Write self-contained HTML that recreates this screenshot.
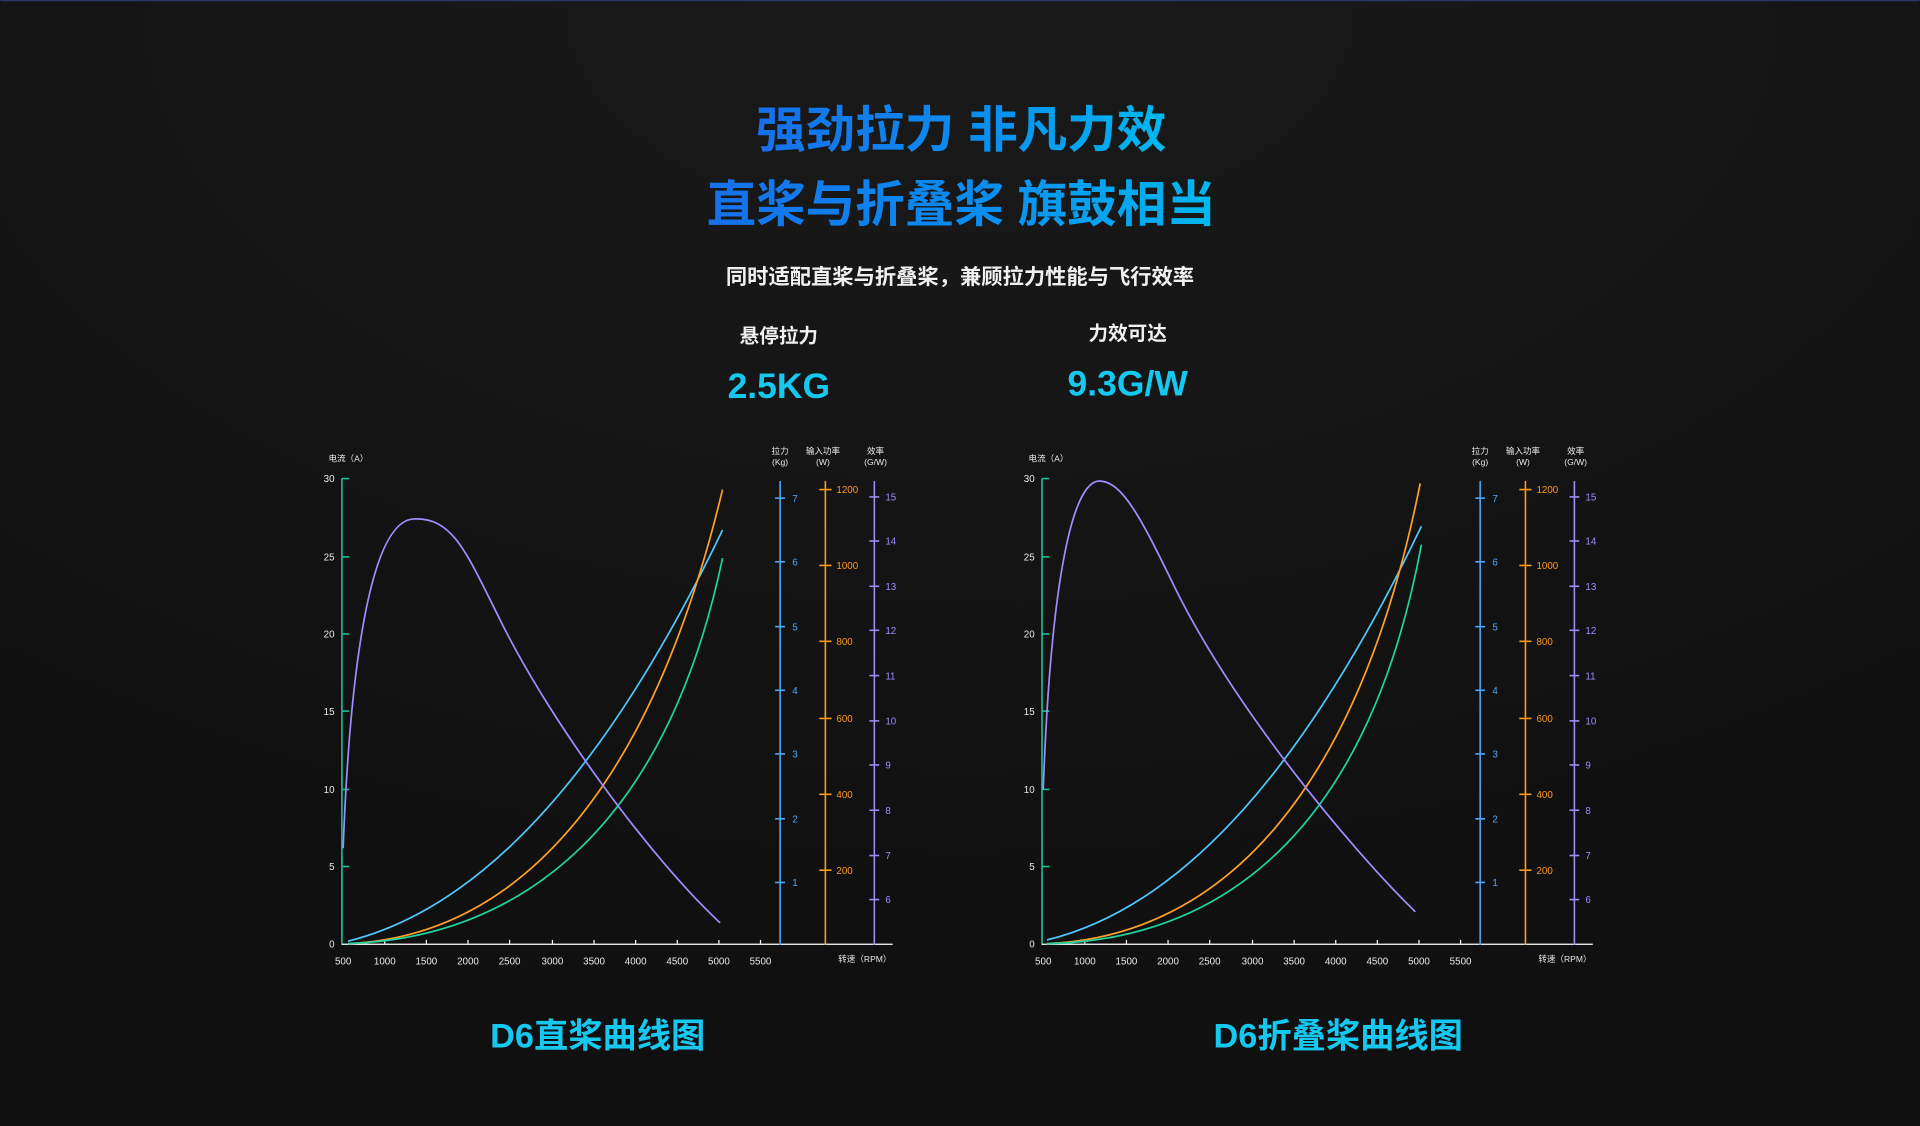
<!DOCTYPE html>
<html><head><meta charset="utf-8"><style>
html,body{margin:0;padding:0;background:#111111;}
svg{display:block}
text{font-family:"Liberation Sans","Noto Sans CJK SC",sans-serif}
</style></head><body>
<svg width="1920" height="1126" viewBox="0 0 1568 920" xmlns="http://www.w3.org/2000/svg">
<defs>
<linearGradient id="tg" x1="0" x2="1" y1="0" y2="0">
<stop offset="0" stop-color="#1670ea"/><stop offset="0.55" stop-color="#0a8ef0"/><stop offset="1" stop-color="#00b8ee"/>
</linearGradient>
<radialGradient id="bg" cx="0.5" cy="0" r="0.8">
<stop offset="0" stop-color="#1a1a1a"/><stop offset="1" stop-color="#101010"/>
</radialGradient>
</defs>
<rect width="1568" height="920" fill="url(#bg)"/>
<rect width="1568" height="1" fill="#2a3a6a"/>
<g font-weight="bold" fill="url(#tg)" text-anchor="middle">
<text x="785" y="120" font-size="40.5">强劲拉力 非凡力效</text>
<text x="785" y="181" font-size="40.5">直桨与折叠桨 旗鼓相当</text>
</g>
<text x="784" y="232" font-size="17.4" fill="#f0f0f0" font-weight="bold" text-anchor="middle">同时适配直桨与折叠桨，兼顾拉力性能与飞行效率</text>
<text x="636" y="280" font-size="16" fill="#f0f0f0" font-weight="bold" text-anchor="middle">悬停拉力</text>
<text x="921" y="278" font-size="16" fill="#f0f0f0" font-weight="bold" text-anchor="middle">力效可达</text>
<text x="636" y="325" font-size="29" fill="#16c8f0" text-anchor="middle" font-weight="bold">2.5KG</text>
<text x="921" y="323" font-size="29" fill="#16c8f0" text-anchor="middle" font-weight="bold">9.3G/W</text>
<text x="488" y="856" font-size="28" fill="#16c8f0" font-weight="bold" text-anchor="middle">D6直桨曲线图</text>
<text x="1093" y="856" font-size="28" fill="#16c8f0" font-weight="bold" text-anchor="middle">D6折叠桨曲线图</text>

<!-- LEFT CHART axes -->
<g font-size="8" fill="#e8e8e8">
<text x="268" y="377" font-size="7">电流（A）</text>
<line x1="279" y1="391" x2="279" y2="772" stroke="#19c39a" stroke-width="1.3"/>
<g stroke="#19c39a" stroke-width="1.3">
<line x1="279" y1="391" x2="285" y2="391"/><line x1="279" y1="455" x2="285" y2="455"/><line x1="279" y1="518" x2="285" y2="518"/><line x1="279" y1="581" x2="285" y2="581"/><line x1="279" y1="645" x2="285" y2="645"/><line x1="279" y1="708" x2="285" y2="708"/>
</g>
<g text-anchor="end">
<text x="273" y="394">30</text><text x="273" y="458">25</text><text x="273" y="521">20</text><text x="273" y="584">15</text><text x="273" y="648">10</text><text x="273" y="711">5</text><text x="273" y="774">0</text>
</g>
<line x1="279" y1="771.5" x2="729" y2="771.5" stroke="#fff" stroke-width="1"/>
<g stroke="#fff" stroke-width="1">
<line x1="314" y1="768" x2="314" y2="771"/><line x1="348" y1="768" x2="348" y2="771"/><line x1="382" y1="768" x2="382" y2="771"/><line x1="416" y1="768" x2="416" y2="771"/><line x1="451" y1="768" x2="451" y2="771"/><line x1="485" y1="768" x2="485" y2="771"/><line x1="519" y1="768" x2="519" y2="771"/><line x1="553" y1="768" x2="553" y2="771"/><line x1="587" y1="768" x2="587" y2="771"/><line x1="621" y1="768" x2="621" y2="771"/>
</g>
<g text-anchor="middle">
<text x="280" y="788">500</text><text x="314" y="788">1000</text><text x="348" y="788">1500</text><text x="382" y="788">2000</text><text x="416" y="788">2500</text><text x="451" y="788">3000</text><text x="485" y="788">3500</text><text x="519" y="788">4000</text><text x="553" y="788">4500</text><text x="587" y="788">5000</text><text x="621" y="788">5500</text>
</g>
<text x="728" y="786" font-size="7" text-anchor="end">转速（RPM）</text>
<g font-size="7" text-anchor="middle">
<text x="637" y="371">拉力</text><text x="637" y="380">(Kg)</text>
<text x="672" y="371">输入功率</text><text x="672" y="380">(W)</text>
<text x="715" y="371">效率</text><text x="715" y="380">(G/W)</text>
</g>
<line x1="637" y1="393" x2="637" y2="772" stroke="#4aa8ff" stroke-width="1.3"/>
<g stroke="#4aa8ff" stroke-width="1.3">
<line x1="633" y1="721" x2="641" y2="721"/><line x1="633" y1="669" x2="641" y2="669"/><line x1="633" y1="616" x2="641" y2="616"/><line x1="633" y1="564" x2="641" y2="564"/><line x1="633" y1="512" x2="641" y2="512"/><line x1="633" y1="459" x2="641" y2="459"/><line x1="633" y1="407" x2="641" y2="407"/>
</g>
<g fill="#4aa8ff">
<text x="647" y="724">1</text><text x="647" y="672">2</text><text x="647" y="619">3</text><text x="647" y="567">4</text><text x="647" y="515">5</text><text x="647" y="462">6</text><text x="647" y="410">7</text>
</g>
<line x1="674" y1="393" x2="674" y2="772" stroke="#ff9a1f" stroke-width="1.3"/>
<g stroke="#ff9a1f" stroke-width="1.3">
<line x1="669" y1="711" x2="679" y2="711"/><line x1="669" y1="649" x2="679" y2="649"/><line x1="669" y1="587" x2="679" y2="587"/><line x1="669" y1="524" x2="679" y2="524"/><line x1="669" y1="462" x2="679" y2="462"/><line x1="669" y1="400" x2="679" y2="400"/>
</g>
<g fill="#ff9a1f">
<text x="683" y="714">200</text><text x="683" y="652">400</text><text x="683" y="590">600</text><text x="683" y="527">800</text><text x="683" y="465">1000</text><text x="683" y="403">1200</text>
</g>
<line x1="714" y1="393" x2="714" y2="772" stroke="#9b8cff" stroke-width="1.3"/>
<g stroke="#9b8cff" stroke-width="1.3">
<line x1="710" y1="735" x2="718" y2="735"/><line x1="710" y1="699" x2="718" y2="699"/><line x1="710" y1="662" x2="718" y2="662"/><line x1="710" y1="625" x2="718" y2="625"/><line x1="710" y1="589" x2="718" y2="589"/><line x1="710" y1="552" x2="718" y2="552"/><line x1="710" y1="515" x2="718" y2="515"/><line x1="710" y1="479" x2="718" y2="479"/><line x1="710" y1="442" x2="718" y2="442"/><line x1="710" y1="406" x2="718" y2="406"/>
</g>
<g fill="#9b8cff">
<text x="723" y="738">6</text><text x="723" y="702">7</text><text x="723" y="665">8</text><text x="723" y="628">9</text><text x="723" y="592">10</text><text x="723" y="555">11</text><text x="723" y="518">12</text><text x="723" y="482">13</text><text x="723" y="445">14</text><text x="723" y="409">15</text>
</g>
</g>
<g fill="none" stroke-width="1.4">
<path d="M284,769 C400,740 500,620 590,433" stroke="#4ec8ff"/>
<path d="M284,771 C420,765 530,650 590,400" stroke="#ffa02a"/>
<path d="M284,771 C430,766 545,670 590,456" stroke="#1fd39e"/>
<path d="M280,693 C285,560 300,425 338,424 C370,423 380,450 410,510 C450,590 530,700 588,754" stroke="#a08cff"/>
</g>

<!-- RIGHT CHART axes -->
<g transform="translate(572,0)" font-size="8" fill="#e8e8e8">
<text x="268" y="377" font-size="7">电流（A）</text>
<line x1="279" y1="391" x2="279" y2="772" stroke="#19c39a" stroke-width="1.3"/>
<g stroke="#19c39a" stroke-width="1.3">
<line x1="279" y1="391" x2="285" y2="391"/><line x1="279" y1="455" x2="285" y2="455"/><line x1="279" y1="518" x2="285" y2="518"/><line x1="279" y1="581" x2="285" y2="581"/><line x1="279" y1="645" x2="285" y2="645"/><line x1="279" y1="708" x2="285" y2="708"/>
</g>
<g text-anchor="end">
<text x="273" y="394">30</text><text x="273" y="458">25</text><text x="273" y="521">20</text><text x="273" y="584">15</text><text x="273" y="648">10</text><text x="273" y="711">5</text><text x="273" y="774">0</text>
</g>
<line x1="279" y1="771.5" x2="729" y2="771.5" stroke="#fff" stroke-width="1"/>
<g stroke="#fff" stroke-width="1">
<line x1="314" y1="768" x2="314" y2="771"/><line x1="348" y1="768" x2="348" y2="771"/><line x1="382" y1="768" x2="382" y2="771"/><line x1="416" y1="768" x2="416" y2="771"/><line x1="451" y1="768" x2="451" y2="771"/><line x1="485" y1="768" x2="485" y2="771"/><line x1="519" y1="768" x2="519" y2="771"/><line x1="553" y1="768" x2="553" y2="771"/><line x1="587" y1="768" x2="587" y2="771"/><line x1="621" y1="768" x2="621" y2="771"/>
</g>
<g text-anchor="middle">
<text x="280" y="788">500</text><text x="314" y="788">1000</text><text x="348" y="788">1500</text><text x="382" y="788">2000</text><text x="416" y="788">2500</text><text x="451" y="788">3000</text><text x="485" y="788">3500</text><text x="519" y="788">4000</text><text x="553" y="788">4500</text><text x="587" y="788">5000</text><text x="621" y="788">5500</text>
</g>
<text x="728" y="786" font-size="7" text-anchor="end">转速（RPM）</text>
<g font-size="7" text-anchor="middle">
<text x="637" y="371">拉力</text><text x="637" y="380">(Kg)</text>
<text x="672" y="371">输入功率</text><text x="672" y="380">(W)</text>
<text x="715" y="371">效率</text><text x="715" y="380">(G/W)</text>
</g>
<line x1="637" y1="393" x2="637" y2="772" stroke="#4aa8ff" stroke-width="1.3"/>
<g stroke="#4aa8ff" stroke-width="1.3">
<line x1="633" y1="721" x2="641" y2="721"/><line x1="633" y1="669" x2="641" y2="669"/><line x1="633" y1="616" x2="641" y2="616"/><line x1="633" y1="564" x2="641" y2="564"/><line x1="633" y1="512" x2="641" y2="512"/><line x1="633" y1="459" x2="641" y2="459"/><line x1="633" y1="407" x2="641" y2="407"/>
</g>
<g fill="#4aa8ff">
<text x="647" y="724">1</text><text x="647" y="672">2</text><text x="647" y="619">3</text><text x="647" y="567">4</text><text x="647" y="515">5</text><text x="647" y="462">6</text><text x="647" y="410">7</text>
</g>
<line x1="674" y1="393" x2="674" y2="772" stroke="#ff9a1f" stroke-width="1.3"/>
<g stroke="#ff9a1f" stroke-width="1.3">
<line x1="669" y1="711" x2="679" y2="711"/><line x1="669" y1="649" x2="679" y2="649"/><line x1="669" y1="587" x2="679" y2="587"/><line x1="669" y1="524" x2="679" y2="524"/><line x1="669" y1="462" x2="679" y2="462"/><line x1="669" y1="400" x2="679" y2="400"/>
</g>
<g fill="#ff9a1f">
<text x="683" y="714">200</text><text x="683" y="652">400</text><text x="683" y="590">600</text><text x="683" y="527">800</text><text x="683" y="465">1000</text><text x="683" y="403">1200</text>
</g>
<line x1="714" y1="393" x2="714" y2="772" stroke="#9b8cff" stroke-width="1.3"/>
<g stroke="#9b8cff" stroke-width="1.3">
<line x1="710" y1="735" x2="718" y2="735"/><line x1="710" y1="699" x2="718" y2="699"/><line x1="710" y1="662" x2="718" y2="662"/><line x1="710" y1="625" x2="718" y2="625"/><line x1="710" y1="589" x2="718" y2="589"/><line x1="710" y1="552" x2="718" y2="552"/><line x1="710" y1="515" x2="718" y2="515"/><line x1="710" y1="479" x2="718" y2="479"/><line x1="710" y1="442" x2="718" y2="442"/><line x1="710" y1="406" x2="718" y2="406"/>
</g>
<g fill="#9b8cff">
<text x="723" y="738">6</text><text x="723" y="702">7</text><text x="723" y="665">8</text><text x="723" y="628">9</text><text x="723" y="592">10</text><text x="723" y="555">11</text><text x="723" y="518">12</text><text x="723" y="482">13</text><text x="723" y="445">14</text><text x="723" y="409">15</text>
</g>
</g>
<g fill="none" stroke-width="1.4">
<path d="M855,768 C970,740 1070,620 1161,430" stroke="#4ec8ff"/>
<path d="M855,771 C1000,765 1110,645 1160,395" stroke="#ffa02a"/>
<path d="M855,771 C1010,768 1120,665 1161,445" stroke="#1fd39e"/>
<path d="M852,645 C858,480 875,393 898,393 C918,393 935,430 962,485 C1010,580 1100,690 1156,745" stroke="#a08cff"/>
</g>
</svg>
</body></html>
